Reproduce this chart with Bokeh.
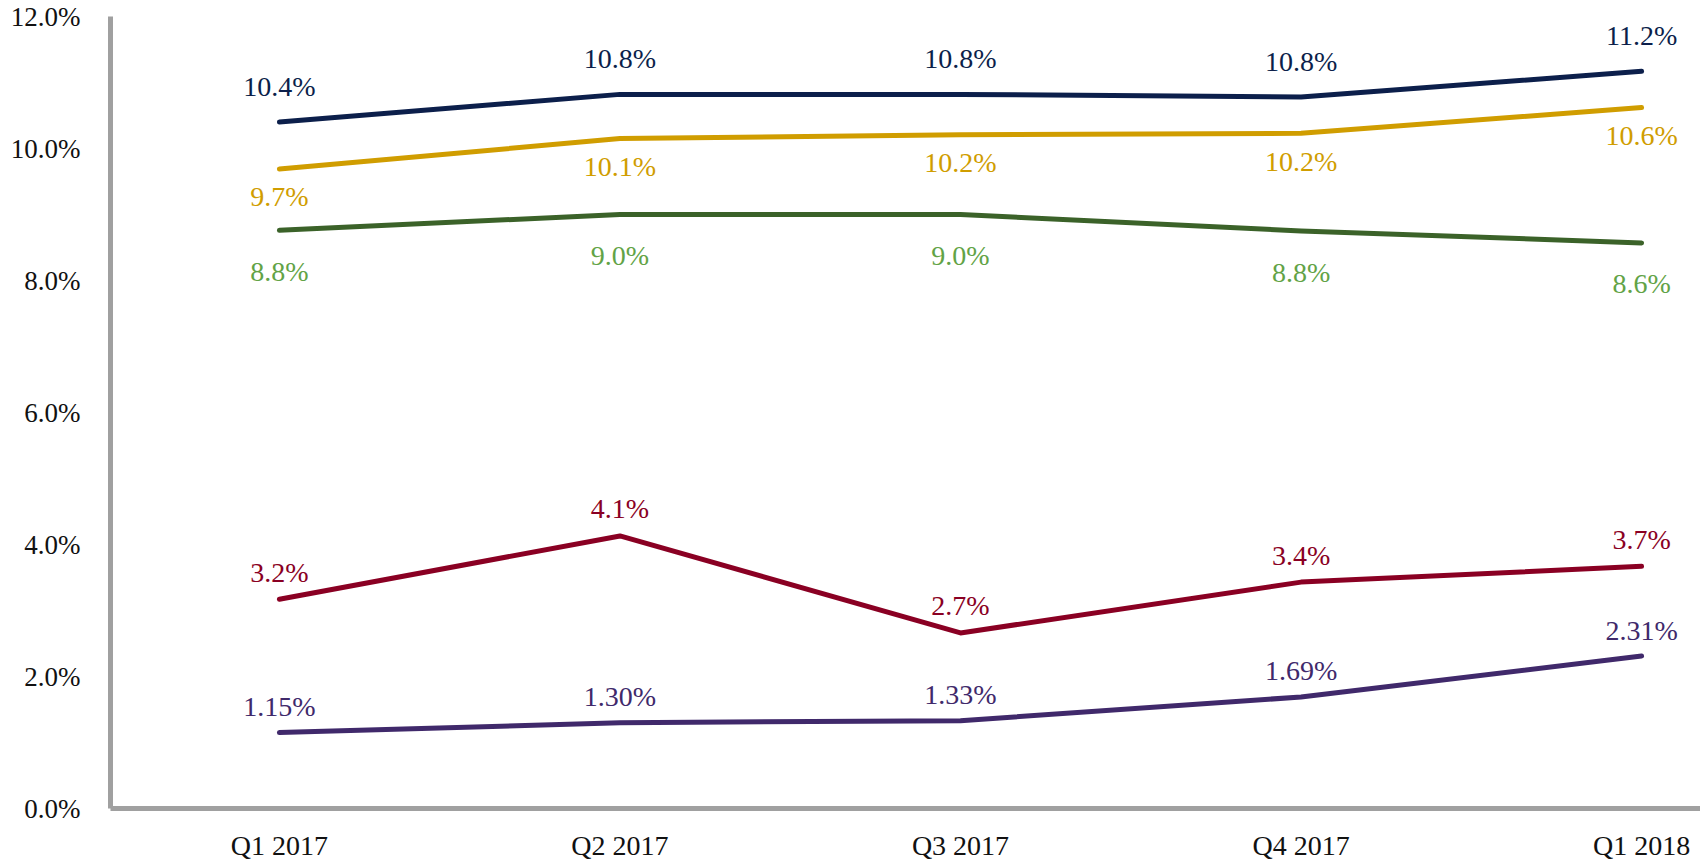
from bokeh.plotting import figure
from bokeh.models import Range1d, FixedTicker, PrintfTickFormatter, ColumnDataSource
from bokeh.core.properties import value
from bokeh.embed import file_html
from bokeh.resources import INLINE

quarters = ["Q1 2017", "Q2 2017", "Q3 2017", "Q4 2017", "Q1 2018"]
navy_vals = [10.40, 10.82, 10.82, 10.78, 11.17]
navy_labels = ["10.4%", "10.8%", "10.8%", "10.8%", "11.2%"]
gold_vals = [9.69, 10.15, 10.21, 10.23, 10.62]
gold_labels = ["9.7%", "10.1%", "10.2%", "10.2%", "10.6%"]
green_vals = [8.76, 9.00, 9.00, 8.75, 8.57]
green_labels = ["8.8%", "9.0%", "9.0%", "8.8%", "8.6%"]
red_vals = [3.17, 4.13, 2.66, 3.43, 3.67]
red_labels = ["3.2%", "4.1%", "2.7%", "3.4%", "3.7%"]
purple_vals = [1.15, 1.30, 1.33, 1.69, 2.31]
purple_labels = ["1.15%", "1.30%", "1.33%", "1.69%", "2.31%"]
y_ticks = [0, 2, 4, 6, 8, 10, 12]

FONT = "Liberation Serif"

p = figure(width=1700, height=858, frame_width=1590, frame_height=792,
           min_border_left=110, min_border_right=0, min_border_top=16, min_border_bottom=50,
           x_range=Range1d(-0.496, 4.173), y_range=Range1d(0, 12),
           output_backend="svg", toolbar_location=None)
p.outline_line_color = None
p.xgrid.visible = False
p.ygrid.visible = False
p.background_fill_color = "white"
p.border_fill_color = "white"

xs = list(range(len(quarters)))

# Axes
p.yaxis.ticker = FixedTicker(ticks=y_ticks)
p.yaxis.formatter = PrintfTickFormatter(format="%.1f%%")
p.yaxis.axis_line_color = "#a0a0a0"
p.yaxis.axis_line_width = 5
p.yaxis.major_tick_line_color = None
p.yaxis.minor_tick_line_color = None
p.yaxis.major_label_standoff = 24
p.yaxis.major_label_text_font = FONT
p.yaxis.major_label_text_font_size = "27px"
p.yaxis.major_label_text_color = "#111111"

p.xaxis.ticker = FixedTicker(ticks=xs)
p.xaxis.major_label_overrides = {i: q for i, q in enumerate(quarters)}
p.xaxis.axis_line_color = "#a0a0a0"
p.xaxis.axis_line_width = 5
p.xaxis.major_tick_line_color = None
p.xaxis.minor_tick_line_color = None
p.xaxis.major_label_standoff = 15
p.xaxis.major_label_text_font = FONT
p.xaxis.major_label_text_font_size = "28px"
p.xaxis.major_label_text_color = "#111111"

series = [
    (navy_vals, navy_labels, "#0c1f4b", "#0c1f4b", -36),
    (gold_vals, gold_labels, "#d09d00", "#d09d00", 28),
    (green_vals, green_labels, "#3b6229", "#62a346", 41),
    (red_vals, red_labels, "#8a0023", "#8a0023", -27),
    (purple_vals, purple_labels, "#40296b", "#40296b", -26),
]

for vals, labels, lcol, tcol, yoff in series:
    src = ColumnDataSource(dict(x=xs, y=vals, t=labels))
    p.line("x", "y", source=src, line_color=lcol, line_width=5,
           line_join="round", line_cap="round")
    p.text("x", "y", text="t", source=src, text_color=tcol,
           text_font=value(FONT), text_font_size="28px",
           text_align="center", text_baseline="middle", y_offset=yoff)

open("out.html", "w").write(file_html(p, INLINE))
